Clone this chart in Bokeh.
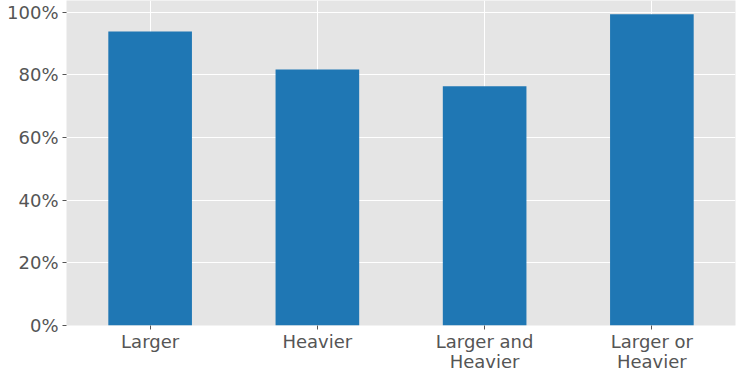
from bokeh.plotting import figure
from bokeh.models import FactorRange, Range1d, FixedTicker, NumeralTickFormatter, ColumnDataSource
from bokeh.embed import file_html
from bokeh.resources import INLINE

categories = ["Larger", "Heavier", "Larger and\nHeavier", "Larger or\nHeavier"]
values = [0.938, 0.817, 0.763, 0.993]
y_ticks = [0.0, 0.2, 0.4, 0.6, 0.8, 1.0]

src = ColumnDataSource(data=dict(cat=categories, val=values))

p = figure(width=741, height=378, x_range=FactorRange(*categories, range_padding=0),
           y_range=Range1d(0, 1.037), output_backend="svg", toolbar_location=None,
           min_border_left=66, min_border_right=6, min_border_top=0, min_border_bottom=53)
p.background_fill_color = "#E5E5E5"
p.border_fill_color = "white"
p.outline_line_color = None

p.vbar(x="cat", top="val", width=0.5, source=src, color="#1F77B4", line_color=None)

p.yaxis.ticker = FixedTicker(ticks=y_ticks)
p.yaxis.formatter = NumeralTickFormatter(format="0%")

for ax in (p.xaxis[0], p.yaxis[0]):
    ax.axis_line_color = None
    ax.major_tick_line_color = "#555555"
    ax.major_tick_out = 4
    ax.major_tick_in = 0
    ax.minor_tick_line_color = None
    ax.major_label_text_font = "DejaVu Sans"
    ax.major_label_text_font_size = "18px"
    ax.major_label_text_color = "#555555"

p.yaxis.major_label_standoff = 4
p.xaxis.major_label_standoff = 1
p.xaxis.major_label_text_line_height = 0.98

p.xgrid.grid_line_color = "white"
p.ygrid.grid_line_color = "white"
p.xgrid.grid_line_width = 1
p.ygrid.grid_line_width = 1

open("out.html", "w").write(file_html(p, INLINE))
